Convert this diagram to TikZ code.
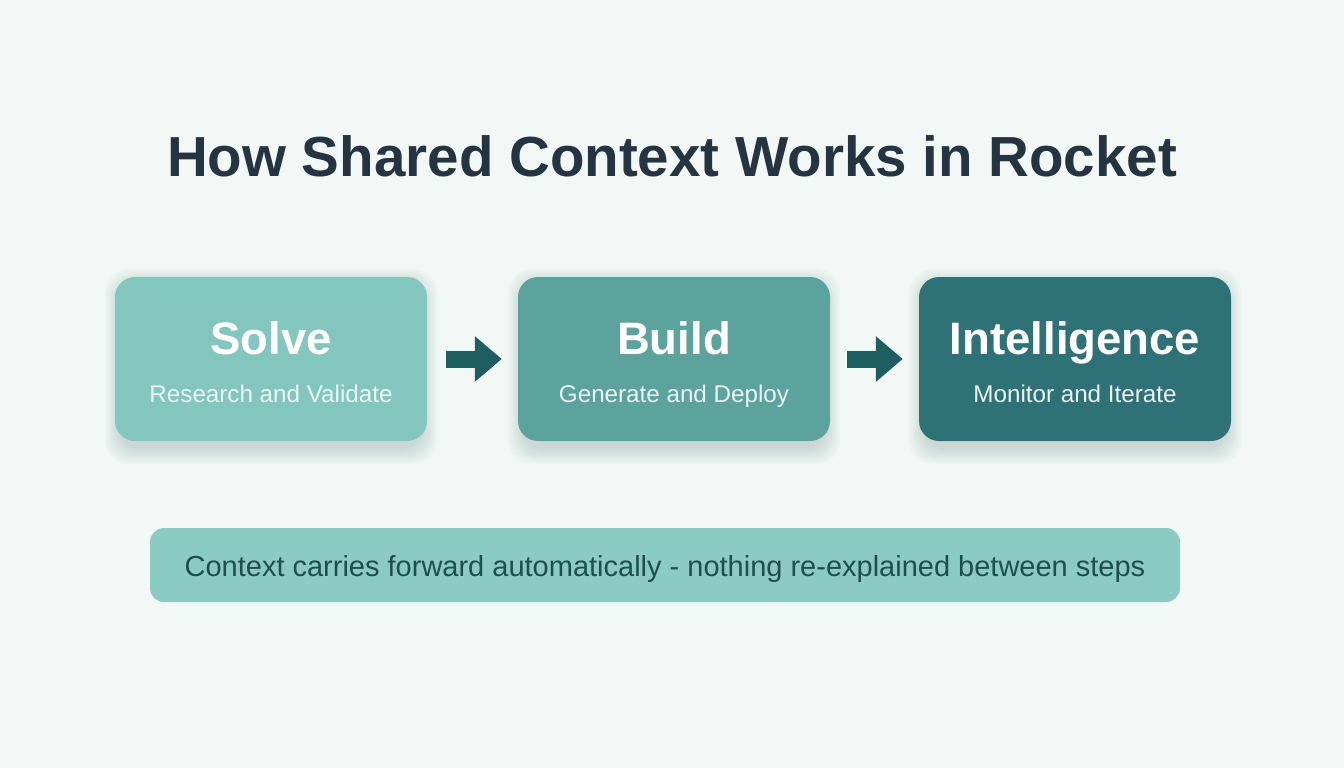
\documentclass[tikz,border=0pt]{standalone}
\usepackage{fontspec}
\setmainfont{Liberation Sans}
\usetikzlibrary{arrows.meta}
\definecolor{bg}{HTML}{F1F8F6}
\definecolor{titlec}{HTML}{263340}
\definecolor{boxa}{HTML}{82C6BE}
\definecolor{boxb}{HTML}{5BA39C}
\definecolor{boxc}{HTML}{2E7277}
\definecolor{boxd}{HTML}{8CCBC3}
\definecolor{arrowc}{HTML}{1F5E60}
\definecolor{notec}{HTML}{1D4F4F}
\definecolor{subc}{HTML}{EAF6F4}
\definecolor{shadowc}{HTML}{2F4F4A}
\tikzset{
  stepbox/.style={rounded corners=20pt, minimum width=312pt, minimum height=164pt, inner sep=0pt},
  headtext/.style={text=white, font=\fontsize{45.5}{50}\selectfont\bfseries, inner sep=0pt, anchor=base},
  subtext/.style={text=subc, font=\fontsize{24.2}{27}\selectfont, inner sep=0pt, anchor=base},
  blockarrow/.style={draw=arrowc, line width=17pt, line cap=butt, -{Triangle[length=27pt 0 0, width=44pt 0 0]}},
  softshadow/.style={fill=shadowc, fill opacity=0.022, rounded corners=24pt},
}
\newcommand{\myshadow}[1]{%
  \foreach \g in {0,2,...,14}{%
    \fill[softshadow] ([xshift=-\g pt+4pt, yshift=-\g pt-9pt]#1.south west) rectangle ([xshift=\g pt-4pt, yshift=\g pt-6pt]#1.north east);
  }%
}
\begin{document}
\begin{tikzpicture}[x=1pt,y=-1pt]
\fill[bg] (0,0) rectangle (1344,768);
\useasboundingbox (0,0) rectangle (1344,768);
\node[text=titlec, font=\fontsize{56.5}{60}\selectfont\bfseries, inner sep=0pt, anchor=base] (title) at (672,176) {How Shared Context Works in Rocket};

\path (271,359) node[stepbox] (p1) {} (674,359) node[stepbox] (p2) {} (1075,359) node[stepbox] (p3) {};
\myshadow{p1}\myshadow{p2}\myshadow{p3}

\node[stepbox, fill=boxa] (b1) at (271,359) {};
\node[stepbox, fill=boxb] (b2) at (674,359) {};
\node[stepbox, fill=boxc] (b3) at (1075,359) {};

\node[headtext] (h1) at (271,354) {Solve};
\node[subtext] (s1) at (271,402) {Research and Validate};
\node[headtext] (h2) at (674,354) {Build};
\node[subtext] (s2) at (674,402) {Generate and Deploy};
\node[headtext] (h3) at (1075,354) {Intelligence};
\node[subtext] (s3) at (1075,402) {Monitor and Iterate};

\draw[blockarrow] ([xshift=19pt]b1.east) -- ([xshift=-16pt]b2.west);
\draw[blockarrow] ([xshift=17pt]b2.east) -- ([xshift=-16pt]b3.west);

\node[fill=boxd, rounded corners=14pt, minimum width=1030pt, minimum height=74pt, inner sep=0pt] (note) at (665,565) {};
\node[text=notec, font=\fontsize{29}{33}\selectfont, inner sep=0pt, anchor=base] (notetext) at (665,576) {Context carries forward automatically - nothing re-explained between steps};
\end{tikzpicture}
\end{document}
